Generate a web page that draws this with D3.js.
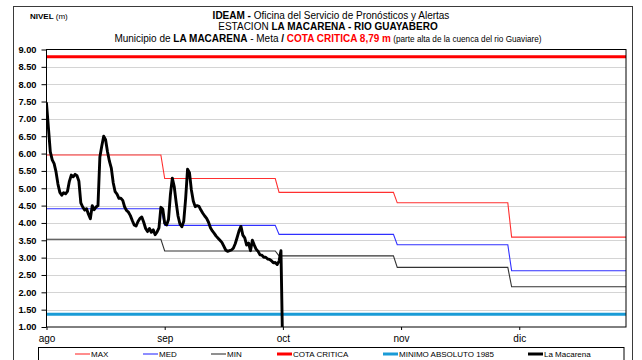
<!DOCTYPE html>
<html>
<head>
<meta charset="utf-8">
<script src="https://cdn.jsdelivr.net/npm/d3@7/dist/d3.min.js"></script>
<style>
  html, body { margin: 0; padding: 0; background: #fff; }
  svg { display: block; font-family: "Liberation Sans", Arial, sans-serif; }
</style>
</head>
<body>
<svg id="chart" width="642" height="360"></svg>
<script>
// Meses del eje (etiquetas y posición en días desde el 1 de agosto)
const mesesEtiquetas = ["ago", "sep", "oct", "nov", "dic"];
const mesesTicks = [0, 31, 62, 93, 124];
const diasPorMes = [31, 30, 31, 30, 31];

// Niveles mensuales de referencia (m)
const nivelMax = [5.96, 5.28, 4.88, 4.58, 3.59];
const nivelMed = [4.41, 3.93, 3.67, 3.37, 2.62];
const nivelMin = [3.53, 3.19, 3.05, 2.72, 2.16];

const cotaCritica = 8.79;
const minimoAbsoluto1985 = 1.37;

// Lecturas de la estación La Macarena cada 12 horas desde el 1 de agosto (m)
const nivelMacarena = [
  7.45, 6.75, 6.05, 5.82, 5.71, 5.47, 5.12, 4.88, 4.80, 4.87,
  4.84, 4.91, 5.20, 5.38, 5.33, 5.40, 5.36, 5.20, 4.58, 4.46,
  4.37, 4.41, 4.25, 4.12, 4.50, 4.38, 4.46, 4.50, 5.90, 6.22,
  6.50, 6.40, 6.05, 5.78, 5.58, 5.16, 4.90, 4.83, 4.71, 4.71,
  4.65, 4.46, 4.36, 4.31, 4.21, 4.07, 3.94, 3.91, 4.04, 4.13,
  4.17, 4.02, 3.84, 3.75, 3.84, 3.73, 3.80, 3.66, 3.74, 3.86,
  4.45, 4.40, 3.99, 3.94, 4.10, 4.82, 5.29, 5.05, 4.60, 4.20,
  3.97, 3.89, 4.05, 4.71, 5.55, 5.45, 4.95, 4.63, 4.47, 4.50,
  4.48, 4.37, 4.28, 4.20, 4.13, 4.02, 3.86, 3.77, 3.70, 3.62,
  3.56, 3.50, 3.44, 3.33, 3.22, 3.18, 3.20, 3.22, 3.27, 3.40,
  3.58, 3.77, 3.90, 3.65, 3.57, 3.36, 3.42, 3.20, 3.50, 3.36,
  3.24, 3.18, 3.08, 3.07, 3.01, 3.01, 2.96, 2.95, 2.91, 2.85,
  2.86, 2.80, 2.90, 3.20, 0
];

const yTicks = d3.range(1, 9.001, 0.5);
const gridValues = d3.range(1.5, 8.501, 0.5);

const svg = d3.select("#chart");
const plot = { left: 46.5, right: 626, top: 49.5, bottom: 327 };

const x = d3.scaleLinear().domain([0, 152]).range([plot.left, plot.right]);
const y = d3.scaleLinear().domain([1, 9]).range([plot.bottom, plot.top]);

// Expande los niveles mensuales a una serie diaria
function serieDiaria(mensual) {
  const out = [];
  let dia = 0;
  mensual.forEach((v, m) => {
    for (let d = 0; d < diasPorMes[m]; d++) out.push({ dia: dia++, v });
  });
  return out;
}

// Marco exterior
svg.append("rect")
  .attr("x", 13.5).attr("y", 6.5).attr("width", 619).attr("height", 370)
  .attr("fill", "none").attr("stroke", "#3a3a3a").attr("stroke-width", 1);

// Títulos
const title = svg.append("g").attr("text-anchor", "middle").attr("fill", "#000");
const t1 = title.append("text").attr("x", 331).attr("y", 18.5).attr("font-size", 10);
t1.append("tspan").attr("font-weight", "bold").text("IDEAM - ");
t1.append("tspan").text("Oficina del Servicio de Pronósticos y Alertas");

const t2 = title.append("text").attr("x", 328).attr("y", 29.5).attr("font-size", 10);
t2.append("tspan").text("ESTACION ");
t2.append("tspan").attr("font-weight", "bold").text("LA MACARENA - RIO GUAYABERO");

const t3 = title.append("text").attr("x", 328).attr("y", 41.8).attr("font-size", 10);
t3.append("tspan").text("Municipio de ");
t3.append("tspan").attr("font-weight", "bold").text("LA MACARENA");
t3.append("tspan").text(" - Meta ");
t3.append("tspan").attr("font-weight", "bold").text(" /  ");
t3.append("tspan").attr("font-weight", "bold").attr("fill", "#ff0000").text("COTA CRITICA 8,79 m");
t3.append("tspan").attr("font-size", 8.2).text(" (parte alta de la cuenca del rio Guaviare)");

const nivel = svg.append("text").attr("x", 30).attr("y", 19.3).attr("font-size", 8);
nivel.append("tspan").attr("font-weight", "bold").text("NIVEL");
nivel.append("tspan").text(" (m)");

// Líneas de cuadrícula punteadas
svg.append("g").selectAll("line").data(gridValues).join("line")
  .attr("x1", plot.left).attr("x2", plot.right)
  .attr("y1", d => Math.round(y(d)) + 0.5).attr("y2", d => Math.round(y(d)) + 0.5)
  .attr("stroke", "#a8a8a8").attr("stroke-width", 1).attr("stroke-dasharray", "1,1");

// Área de recorte del gráfico
svg.append("clipPath").attr("id", "clip")
  .append("rect").attr("x", plot.left).attr("y", plot.top)
  .attr("width", plot.right - plot.left).attr("height", plot.bottom - plot.top);

const g = svg.append("g").attr("clip-path", "url(#clip)");
const lineDia = d3.line().x(d => x(d.dia)).y(d => y(d.v));

g.append("path").datum(serieDiaria(nivelMin)).attr("d", lineDia)
  .attr("fill", "none").attr("stroke", "#333333").attr("stroke-width", 1.1);
g.append("path").datum(serieDiaria(nivelMed)).attr("d", lineDia)
  .attr("fill", "none").attr("stroke", "#3030ff").attr("stroke-width", 1.1);
g.append("path").datum(serieDiaria(nivelMax)).attr("d", lineDia)
  .attr("fill", "none").attr("stroke", "#ff3030").attr("stroke-width", 1.1);

g.append("line")
  .attr("x1", plot.left).attr("x2", plot.right)
  .attr("y1", y(cotaCritica)).attr("y2", y(cotaCritica))
  .attr("stroke", "#ff0000").attr("stroke-width", 3);

g.append("line")
  .attr("x1", plot.left).attr("x2", plot.right)
  .attr("y1", y(minimoAbsoluto1985)).attr("y2", y(minimoAbsoluto1985))
  .attr("stroke", "#1a9bd6").attr("stroke-width", 3);

g.append("path")
  .datum(nivelMacarena.map((v, i) => ({ dia: i / 2, v })))
  .attr("d", lineDia)
  .attr("fill", "none").attr("stroke", "#000").attr("stroke-width", 2.9)
  .attr("stroke-linejoin", "round").attr("stroke-linecap", "round");

// Marco del área de trazado
svg.append("rect")
  .attr("x", plot.left).attr("y", plot.top)
  .attr("width", plot.right - plot.left).attr("height", plot.bottom - plot.top)
  .attr("fill", "none").attr("stroke", "#000").attr("stroke-width", 1);

// Eje Y
const yAxis = svg.append("g").attr("transform", `translate(${plot.left},0)`)
  .call(d3.axisLeft(y).tickValues(yTicks).tickFormat(d3.format(".2f")).tickSize(5).tickPadding(5));
yAxis.select(".domain").remove();
yAxis.selectAll("line").attr("stroke", "#000");
yAxis.selectAll("text").attr("font-size", 9.3).attr("font-weight", "bold")
  .attr("font-family", "Liberation Sans, Arial, sans-serif").attr("fill", "#000");

// Eje X
const xAxis = svg.append("g").attr("transform", `translate(0,${plot.bottom})`)
  .call(d3.axisBottom(x).tickValues(mesesTicks).tickFormat((d, i) => mesesEtiquetas[i]).tickSize(3).tickPadding(5));
xAxis.select(".domain").remove();
xAxis.selectAll("line").attr("stroke", "#000");
xAxis.selectAll("text").attr("font-size", 10)
  .attr("font-family", "Liberation Sans, Arial, sans-serif").attr("fill", "#000");

// Leyenda
svg.append("rect")
  .attr("x", 38.5).attr("y", 347.5).attr("width", 585.5).attr("height", 30)
  .attr("fill", "#fff").attr("stroke", "#000").attr("stroke-width", 1);

const leyenda = [
  { nombre: "MAX", color: "#ff3030", ancho: 1.1, x: 75 },
  { nombre: "MED", color: "#3030ff", ancho: 1.1, x: 143 },
  { nombre: "MIN", color: "#333333", ancho: 1.1, x: 211 },
  { nombre: "COTA CRITICA", color: "#ff0000", ancho: 3, x: 277 },
  { nombre: "MINIMO ABSOLUTO 1985", color: "#1a9bd6", ancho: 3, x: 383 },
  { nombre: "La Macarena", color: "#000", ancho: 3, x: 528 }
];
const li = svg.append("g").selectAll("g").data(leyenda).join("g")
  .attr("transform", d => `translate(${d.x},354)`);
li.append("line").attr("x1", 0).attr("x2", 15).attr("y1", 0).attr("y2", 0)
  .attr("stroke", d => d.color).attr("stroke-width", d => d.ancho);
li.append("text").attr("x", 16).attr("y", 2.9).attr("font-size", 8).attr("fill", "#000")
  .text(d => d.nombre);
</script>
</body>
</html>
